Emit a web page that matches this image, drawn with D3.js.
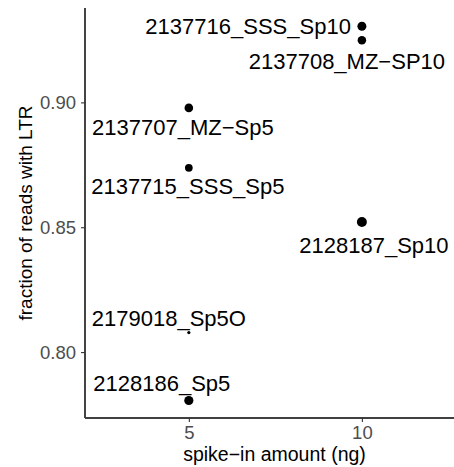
<!DOCTYPE html>
<html>
<head>
<meta charset="utf-8">
<script src="https://cdn.jsdelivr.net/npm/d3@7"></script>
<style>
  body { margin: 0; background: #fff; }
  svg { display: block; font-family: "Liberation Sans", Arial, Helvetica, sans-serif; }
</style>
</head>
<body>
<div id="chart"></div>
<script>
// sample data
var samples = ["2137716_SSS_Sp10", "2137708_MZ\u2212SP10", "2137707_MZ\u2212Sp5", "2137715_SSS_Sp5",
               "2128187_Sp10", "2179018_Sp5O", "2128186_Sp5"];
var spikeIn = [10, 10, 5, 5, 10, 5, 5];
var fracLTR = [0.9305, 0.9249, 0.8978, 0.8738, 0.8521, 0.8078, 0.7806];
var pointWeight = [20, 18, 18.5, 15, 25, 2.6, 21];   // relative point size
var xTicks = [5, 10];
var yTicks = [0.80, 0.85, 0.90];

// label placement relative to the point (px), like ggrepel output
var labelOffset = [[-11, 0, "end"], [-15, 21, "middle"], [-6, 19, "middle"], [-1, 18, "middle"],
                   [12, 23, "middle"], [-20, -15, "middle"], [-27, -17, "middle"]];

var width = 454, height = 467;
var panel = { left: 85, right: 464, top: 8, bottom: 418 };

var svg = d3.select("#chart").append("svg")
  .attr("width", width)
  .attr("height", height);

var x = d3.scaleLinear().domain([2, 12.95]).range([panel.left, panel.right]);
var y = d3.scaleLinear().domain([0.7736, 0.9378]).range([panel.bottom, panel.top]);
var r = d3.scaleSqrt().domain([0, 25]).range([0, 5]);

var data = samples.map((s, i) => ({
  name: s, x: spikeIn[i], y: fracLTR[i], w: pointWeight[i], off: labelOffset[i]
}));

// axes
var xAxis = svg.append("g")
  .attr("transform", "translate(0," + panel.bottom + ")")
  .call(d3.axisBottom(x).tickValues(xTicks).tickSize(4).tickPadding(4).tickFormat(d3.format("d")));
xAxis.select(".domain").attr("d", "M" + panel.left + ",0H" + panel.right).attr("stroke", "#000").attr("stroke-width", 1.6);
xAxis.selectAll(".tick line").attr("stroke", "#333").attr("stroke-width", 1.1);
xAxis.selectAll(".tick text")
  .attr("fill", "#4d4d4d")
  .attr("font-size", 18.5)
  .attr("font-family", null);

var yAxis = svg.append("g")
  .attr("transform", "translate(" + panel.left + ",0)")
  .call(d3.axisLeft(y).tickValues(yTicks).tickSize(4).tickPadding(5).tickFormat(d3.format(".2f")));
yAxis.select(".domain").attr("d", "M0," + panel.top + "V" + panel.bottom).attr("stroke", "#444").attr("stroke-width", 2);
yAxis.selectAll(".tick line").attr("stroke", "#333").attr("stroke-width", 1.1);
yAxis.selectAll(".tick text")
  .attr("fill", "#4d4d4d")
  .attr("font-size", 18.5)
  .attr("font-family", null);

// points
svg.append("g").selectAll("circle")
  .data(data)
  .enter()
  .append("circle")
  .attr("cx", d => x(d.x))
  .attr("cy", d => y(d.y))
  .attr("r", d => r(d.w))
  .attr("fill", "#000");

// labels
svg.append("g").selectAll("text")
  .data(data)
  .enter()
  .append("text")
  .attr("x", d => x(d.x) + d.off[0])
  .attr("y", d => y(d.y) + d.off[1])
  .attr("dy", "0.36em")
  .attr("text-anchor", d => d.off[2])
  .attr("font-size", 22)
  .attr("fill", "#000")
  .text(d => d.name);

// axis titles
svg.append("text")
  .attr("x", (panel.left + panel.right) / 2)
  .attr("y", 461)
  .attr("text-anchor", "middle")
  .attr("font-size", 19.5)
  .attr("fill", "#000")
  .text("spike\u2212in amount (ng)");

svg.append("text")
  .attr("transform", "translate(32," + ((panel.top + panel.bottom) / 2) + ") rotate(-90)")
  .attr("text-anchor", "middle")
  .attr("font-size", 19)
  .attr("fill", "#000")
  .text("fraction of reads with LTR");
</script>
</body>
</html>
